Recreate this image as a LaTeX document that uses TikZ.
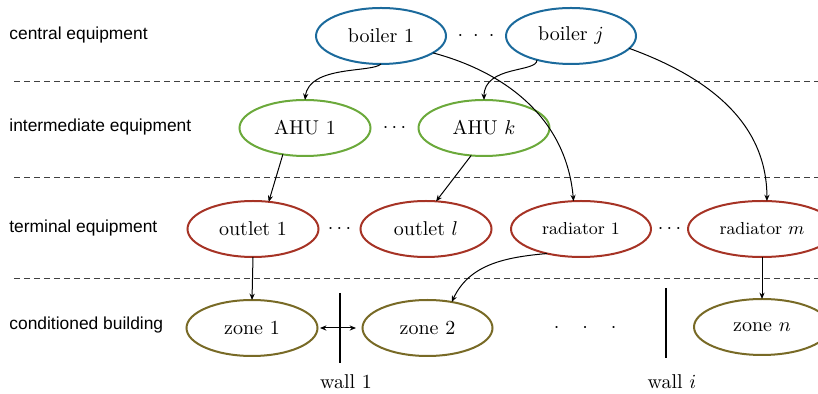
\documentclass[tikz,border=0pt]{standalone}
\usepackage{fontspec}
\setsansfont{Liberation Sans}
\usetikzlibrary{positioning,shapes.geometric,arrows.meta,calc}
\definecolor{boilerblue}{HTML}{1B6A9C}
\definecolor{ahugreen}{HTML}{6BA93B}
\definecolor{termred}{HTML}{A63325}
\definecolor{zoneolive}{HTML}{786A26}

\begin{document}
\begin{tikzpicture}[x=0.5pt,y=-0.5pt,
>={Stealth[length=3.2pt,width=2.6pt]},
unitnode/.style={ellipse, line width=1pt, inner sep=0pt, outer sep=0pt, minimum width=65.5pt, minimum height=28pt},
boilernode/.style={unitnode, draw=boilerblue},
ahunode/.style={unitnode, draw=ahugreen},
termnode/.style={unitnode, draw=termred},
zonenode/.style={unitnode, draw=zoneolive},
levelnode/.style={anchor=west, inner sep=0pt, font=\sffamily\fontsize{8.7}{10}\selectfont},
dotsnode/.style={inner sep=0pt, text height=5pt, text depth=0pt},
sepline/.style={dash pattern=on 3pt off 2pt, line width=0.5pt, black!75},
flow/.style={->, line width=0.5pt},
wall/.style={line width=1.2pt},
]
\useasboundingbox (0,0) rectangle (818,394);

%Levels
\node[levelnode] (central)      at (9,35)  {central equipment};
\node[levelnode] (intermediate) at (9,127) {intermediate equipment};
\node[levelnode] (terminal)     at (9,228) {terminal equipment};
\node[levelnode] (building)     at (9,325) {conditioned building};

\draw[sepline] (14,82)  -- (818,82);
\draw[sepline] (14,178) -- (818,178);
\draw[sepline] (14,279) -- (818,279);

%Nodes
\node[boilernode, minimum width=65pt] (boiler1) at (381,36) {boiler 1};
\node[boilernode, minimum width=65pt] (boilerj) [right=30pt of boiler1] {boiler $j$};

\node[ahunode] (AHU1) at (305,128) {AHU 1};
\node[ahunode] (AHUk) [right=24pt of AHU1] {AHU $k$};

\node[termnode] (outlet1) at (253,229) {outlet 1};
\node[termnode] (outletl) [right=21pt of outlet1] {outlet $l$};
\node[termnode, minimum width=70pt, font=\fontsize{8.7}{10}\selectfont] (radiator1) [right=9.75pt of outletl] {radiator 1};
\node[termnode, minimum width=74pt, font=\fontsize{8.7}{10}\selectfont] (radiatorm) [right=18.5pt of radiator1] {radiator $m$};

\node[zonenode] (zone1) at (252,328) {zone 1};
\node[zonenode, minimum width=65pt] (zone2) [right=22.5pt of zone1] {zone 2};
\node[zonenode, minimum width=68pt] (zonen) [below=21pt of radiatorm] {zone $n$};

%Dots
\node[dotsnode] (boilerdots) at ($(boiler1.east)!0.5!(boilerj.west)$) {$\cdot$\hspace{5pt}$\cdot$\hspace{5pt}$\cdot$};
\node[dotsnode] (ahudots) at ($(AHU1.east)!0.5!(AHUk.west)$) {$\cdots$};
\node[dotsnode] (outletdots) at ($(outlet1.east)!0.5!(outletl.west)$) {$\cdots$};
\node[dotsnode] (radiatordots) at ($(radiator1.east)!0.5!(radiatorm.west)$) {$\cdots$};
\node[dotsnode] (zonedots) [right=30.5pt of zone2] {$\cdot$\hspace{11.5pt}$\cdot$\hspace{11.5pt}$\cdot$};

%Walls
\coordinate (wall1) at ($(zone1.east)!0.5!(zone2.west)$);
\coordinate (walli) at (666,323);
\draw[wall] ([yshift=17.5pt]wall1) -- ([yshift=-17.5pt]wall1);
\draw[wall] ([yshift=17.5pt]walli) -- ([yshift=-17.5pt]walli);
\node[anchor=base, xshift=3pt] (wall1label) at ($(wall1)+(0,61)$) {wall 1};
\node[anchor=base, xshift=3pt] (wallilabel) at ($(walli)+(0,66)$) {wall $i$};

%Lines
\draw[flow] (boiler1.south) .. controls +(-9,9) and +(4,-35) .. (AHU1.north);
\draw[flow] (boilerj.215) .. controls +(1,13) and +(0,-35) .. (AHUk.north);
\draw[flow] (boiler1.-18) to[out=-15,in=95] (radiator1.105);
\draw[flow] (boilerj.-12) to[out=-20,in=90] (radiatorm.80);
\draw[flow] (AHU1.230) -- (outlet1.60);
\draw[flow] (AHUk.245) -- (outletl.70);
\draw[flow] (outlet1.south) -- (zone1.north);
\draw[flow] (radiator1.216) to[out=185,in=65] (zone2.47);
\draw[flow] (radiatorm.south) -- (zonen.north);
\draw[<->, line width=0.5pt, shorten <=1.25pt, shorten >=3.25pt] (zone1.east) -- (zone2.west);

\end{tikzpicture}
\end{document}
